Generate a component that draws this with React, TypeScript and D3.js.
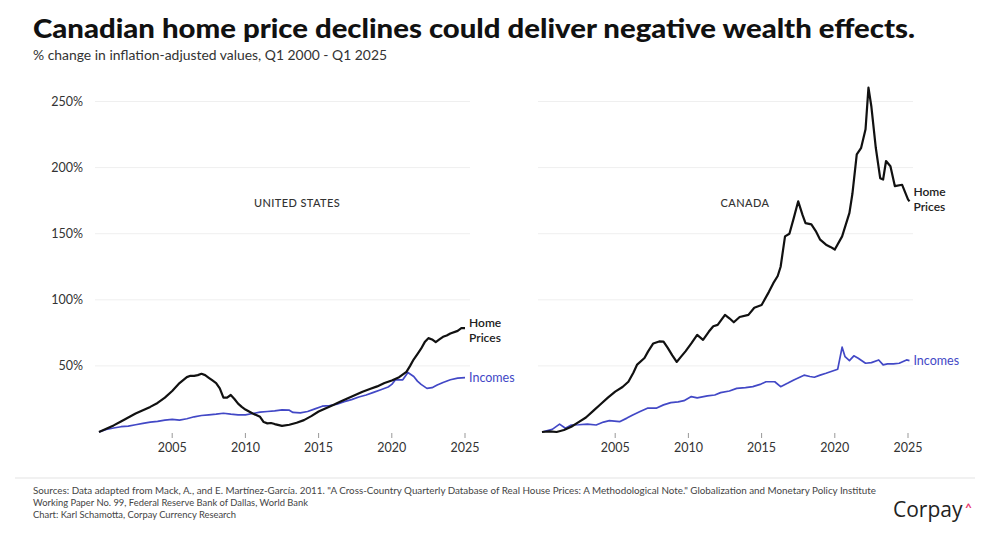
import React from 'react';
import * as d3 from 'd3';

// [year, % change]
const usHomePrices: [number, number][] = [
  [2000, 0], [2000.5, 2.5], [2001, 5], [2001.5, 8], [2002, 11], [2002.5, 14], [2003, 16.5],
  [2003.5, 19], [2004, 22], [2004.5, 26], [2005, 31], [2005.5, 37], [2006, 41.5], [2006.25, 42.5],
  [2006.5, 42.5], [2006.75, 43], [2007, 44], [2007.25, 43], [2007.5, 41], [2007.75, 39],
  [2008, 37], [2008.25, 33], [2008.5, 26], [2008.75, 26], [2009, 28], [2009.25, 25],
  [2009.5, 21.5], [2009.75, 19], [2010, 17], [2010.5, 14], [2011, 11.5], [2011.25, 7.5],
  [2011.5, 6.5], [2011.75, 6.8], [2012, 6], [2012.5, 4.6], [2013, 5.5], [2013.5, 7], [2014, 9],
  [2014.5, 12], [2015, 15.5], [2015.5, 18], [2016, 20.5], [2016.5, 23], [2017, 25.5],
  [2017.5, 28], [2018, 30.5], [2018.5, 32.5], [2019, 34.5], [2019.5, 37], [2020, 39],
  [2020.5, 41.5], [2021, 45.5], [2021.25, 50], [2021.5, 55], [2021.75, 59], [2022, 63],
  [2022.25, 68], [2022.5, 71], [2022.75, 70], [2023, 68], [2023.25, 70], [2023.5, 72],
  [2023.75, 73], [2024, 74.5], [2024.5, 76.5], [2024.75, 78.5], [2025, 78.5],
];

const usIncomes: [number, number][] = [
  [2000, 0], [2000.5, 2], [2001, 3], [2001.5, 4], [2002, 4.5], [2002.5, 5.5], [2003, 6.5],
  [2003.5, 7.5], [2004, 8], [2004.5, 9], [2005, 9.5], [2005.5, 9], [2006, 10], [2006.5, 11.5],
  [2007, 12.5], [2007.5, 13], [2008, 13.5], [2008.5, 14.2], [2009, 13.5], [2009.5, 13],
  [2010, 13], [2010.5, 14], [2011, 15], [2011.5, 15.5], [2012, 16], [2012.5, 16.7],
  [2013, 16.5], [2013.25, 14.8], [2013.75, 14.5], [2014.25, 15.5], [2014.75, 17.5],
  [2015.25, 19.5], [2015.75, 20], [2016.25, 21], [2016.75, 23], [2017.25, 24.5],
  [2017.75, 26.5], [2018.25, 28], [2018.75, 30], [2019.25, 32], [2019.75, 34], [2020, 36],
  [2020.25, 39.5], [2020.75, 39.5], [2021.1, 45], [2021.5, 42], [2021.75, 38.5], [2022, 36],
  [2022.4, 33], [2022.75, 33.5], [2023.1, 35.5], [2023.5, 37.5], [2024, 39.5], [2024.5, 40.8],
  [2025, 41.2],
];

const caHomePrices: [number, number][] = [
  [2000, 0], [2000.5, 0.5], [2001, 0], [2001.5, 1.5], [2002, 4], [2002.5, 7.5], [2003, 11],
  [2003.5, 16], [2004, 21], [2004.5, 26], [2005, 30.5], [2005.5, 34], [2005.9, 38],
  [2006.25, 45], [2006.5, 51], [2007, 56], [2007.25, 61], [2007.6, 67], [2008, 68.5],
  [2008.3, 68.4], [2008.6, 63.4], [2008.9, 58], [2009.2, 53], [2009.5, 57], [2009.8, 61],
  [2010.2, 67], [2010.6, 73.5], [2011, 69.7], [2011.4, 76], [2011.7, 80], [2012, 81],
  [2012.5, 88.6], [2012.8, 86], [2013.1, 83], [2013.5, 87], [2014.1, 88.6], [2014.5, 94],
  [2015, 96], [2015.5, 106], [2015.8, 112.6], [2016.1, 118], [2016.3, 125], [2016.6, 148],
  [2016.9, 150], [2017.2, 162], [2017.5, 174.5], [2017.8, 164], [2018, 158], [2018.4, 157],
  [2018.7, 152], [2019, 145.5], [2019.4, 141.7], [2019.7, 140], [2020, 138], [2020.5, 148],
  [2021, 165.7], [2021.2, 180], [2021.5, 210], [2021.8, 215], [2022.1, 229], [2022.3, 260.5],
  [2022.5, 246], [2022.8, 215], [2023.1, 192], [2023.3, 191], [2023.5, 205], [2023.8, 201],
  [2024.1, 186], [2024.6, 187], [2025, 176], [2025.1, 174.5],
];

const caIncomes: [number, number][] = [
  [2000, 0], [2000.7, 2], [2001.2, 6], [2001.6, 2.8], [2002, 5.3], [2002.5, 5.5], [2003.1, 6],
  [2003.7, 5.3], [2004.2, 7.5], [2004.6, 8.6], [2005.3, 7.8], [2005.8, 10.5], [2006.2, 12.9],
  [2006.7, 15.5], [2007.2, 18], [2007.8, 18], [2008.3, 20.5], [2008.8, 22.2], [2009.3, 22.8],
  [2009.7, 23.7], [2010.2, 26.8], [2010.6, 25.8], [2011.3, 27.3], [2011.8, 28], [2012.2, 29.8],
  [2012.8, 31], [2013.3, 33], [2013.9, 33.5], [2014.4, 34.3], [2014.9, 36], [2015.3, 38],
  [2015.9, 38], [2016.3, 34.3], [2016.8, 37], [2017.2, 39.4], [2017.9, 43], [2018.3, 42],
  [2018.6, 41.4], [2019, 43], [2019.4, 44.4], [2019.8, 46], [2020.2, 47.5], [2020.5, 64.2],
  [2020.7, 57], [2021, 54], [2021.3, 57.6], [2021.6, 55.8], [2022.1, 52], [2022.5, 52.5],
  [2023, 54.5], [2023.3, 50.8], [2023.6, 51.5], [2024, 51.5], [2024.4, 52], [2024.9, 54.5],
  [2025.1, 54],
];

const yTicks = [50, 100, 150, 200, 250];
const xTicks = [2005, 2010, 2015, 2020, 2025];

const footerLines = [
  'Sources: Data adapted from Mack, A., and E. Martínez-García. 2011. "A Cross-Country Quarterly Database of Real House Prices: A Methodological Note." Globalization and Monetary Policy Institute',
  'Working Paper No. 99, Federal Reserve Bank of Dallas, World Bank',
  'Chart: Karl Schamotta, Corpay Currency Research',
];

const W = 990;
const H = 537;
const FONT = "Lato, 'Noto Sans', sans-serif";
const BLUE = '#4248c6';

const y = d3.scaleLinear().domain([0, 250]).range([432, 101.5]);

interface PanelProps {
  x0: number;
  title: string;
  titleX: number;
  home: [number, number][];
  incomes: [number, number][];
  homeDy: number;
}

const Panel: React.FC<PanelProps> = ({ x0, title, titleX, home, incomes, homeDy }) => {
  const x = d3.scaleLinear().domain([2000, 2025]).range([x0, x0 + 366]);
  const line = d3
    .line<[number, number]>()
    .x((d) => x(d[0]))
    .y((d) => y(d[1]));
  const lastHome = home[home.length - 1];
  const lastInc = incomes[incomes.length - 1];
  const hx = x(lastHome[0]) + 4;
  return (
    <g>
      {yTicks.map((t) => (
        <line key={t} x1={x0 - 4} x2={x0 + 371} y1={y(t)} y2={y(t)} stroke="#efefef" strokeWidth={1} />
      ))}
      {xTicks.map((t) => (
        <g key={t}>
          <line x1={x(t)} x2={x(t)} y1={433} y2={438} stroke="#999" strokeWidth={1} />
          <text x={x(t)} y={452} textAnchor="middle" fontSize={12.5} fill="#333">
            {t}
          </text>
        </g>
      ))}
      <text x={titleX} y={207} textAnchor="middle" fontSize={11} fill="#333" letterSpacing={0.4} fontWeight={500}>
        {title}
      </text>
      <path d={line(incomes) || ''} fill="none" stroke={BLUE} strokeWidth={1.7} strokeLinejoin="round" />
      <path d={line(home) || ''} fill="none" stroke="#111" strokeWidth={2.2} strokeLinejoin="round" />
      <text fontSize={12} fill="#222" fontWeight={600}>
        <tspan x={hx} y={y(lastHome[1]) + homeDy}>Home</tspan>
        <tspan x={hx} y={y(lastHome[1]) + homeDy + 14.5}>Prices</tspan>
      </text>
      <text x={x(lastInc[0]) + 4} y={y(lastInc[1]) + 4.5} fontSize={12.5} fill={BLUE}>
        Incomes
      </text>
    </g>
  );
};

const App: React.FC = () => {
  return (
    <svg
      width={W}
      height={H}
      viewBox={`0 0 ${W} ${H}`}
      style={{ position: 'absolute', left: 0, top: 0, background: '#fff', fontFamily: FONT }}
    >
      <rect width={W} height={H} fill="#fff" />
      <text x={33} y={38} fontSize={26} fontWeight={900} fill="#111" textLength={882} lengthAdjust="spacingAndGlyphs">
        Canadian home price declines could deliver negative wealth effects.
      </text>
      <text x={33} y={60} fontSize={12.5} fill="#333" textLength={354} lengthAdjust="spacingAndGlyphs">
        % change in inflation-adjusted values, Q1 2000 - Q1 2025
      </text>

      {yTicks.map((t) => (
        <text key={t} x={83} y={y(t) + 4.5} textAnchor="end" fontSize={12.5} fill="#333">
          {t}%
        </text>
      ))}

      <Panel x0={99} title="UNITED STATES" titleX={297} home={usHomePrices} incomes={usIncomes} homeDy={-1} />
      <Panel x0={542} title="CANADA" titleX={745} home={caHomePrices} incomes={caIncomes} homeDy={-5} />

      <line x1={15} x2={975} y1={478} y2={478} stroke="#e3e3e3" strokeWidth={1} />
      {footerLines.map((s, i) => (
        <text
          key={i}
          x={33}
          y={494 + i * 12}
          fontSize={8.5}
          fill="#444"
          textLength={[843, 275, 203][i]}
          lengthAdjust="spacingAndGlyphs"
        >
          {s}
        </text>
      ))}
      <text x={893} y={517} fontSize={21} fill="#222" fontFamily="'Open Sans', Lato, sans-serif">
        Corpay
      </text>
      <text x={965} y={512} fontSize={12} fill="#e8336b" fontWeight={700}>
        ^
      </text>
    </svg>
  );
};

export default App;
